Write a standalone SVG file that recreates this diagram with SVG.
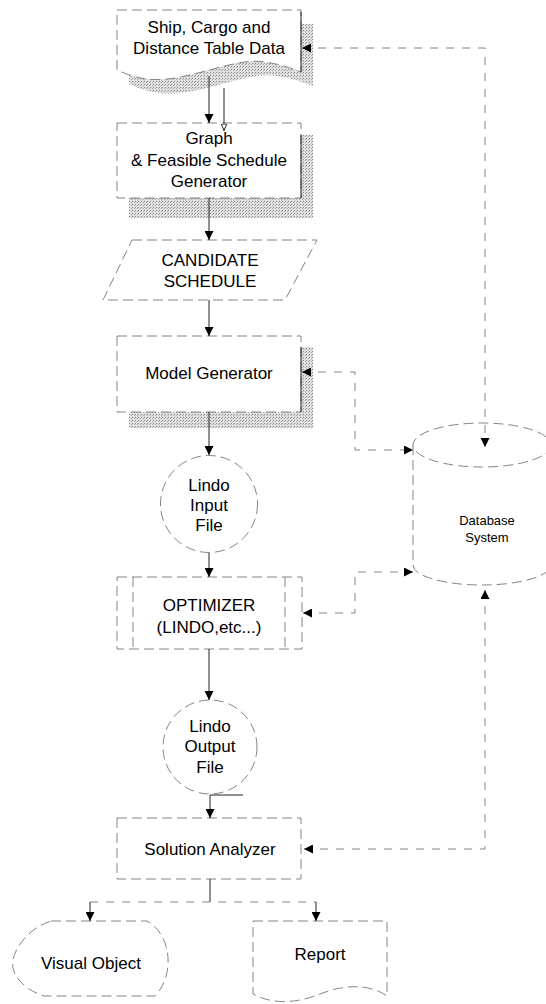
<svg xmlns="http://www.w3.org/2000/svg" width="546" height="1004" viewBox="0 0 546 1004">
<defs>
<pattern id="stip" width="3" height="3" patternUnits="userSpaceOnUse">
<rect width="3" height="3" fill="#e0e0e0"/>
<rect x="0" y="0" width="1" height="1" fill="#8a8a8a"/>
<rect x="2" y="1" width="1" height="1" fill="#aaaaaa"/>
</pattern>
<marker id="ah" viewBox="0 0 10 10" refX="10" refY="5" markerWidth="9" markerHeight="9" markerUnits="userSpaceOnUse" orient="auto-start-reverse">
<path d="M0,0 L10,5 L0,10 Z" fill="#000"/>
</marker>
<marker id="hollow" viewBox="0 0 10 10" refX="10" refY="5" markerWidth="7" markerHeight="7" markerUnits="userSpaceOnUse" orient="auto">
<path d="M0,1 L9,5 L0,9 Z" fill="#fff" stroke="#000" stroke-width="1.2"/>
</marker>
</defs>
<style>
.b{fill:#fff;stroke:#777;stroke-width:0.9;stroke-dasharray:10 5}
.sh{fill:url(#stip);stroke:none}
.t{font-family:"Liberation Sans",Arial,sans-serif;font-size:17px;fill:#000;text-anchor:middle}
.ts{font-family:"Liberation Sans",Arial,sans-serif;font-size:13px;fill:#000;text-anchor:middle}
.c{fill:none;stroke:#222;stroke-width:1}
.cd{fill:none;stroke:#777;stroke-width:0.9;stroke-dasharray:8 8}
</style>

<g id="ship-data">
<path class="sh" d="M129 24 L313 24 L313 86 C307 84, 297 79, 277 76 C252 72, 222 86, 187 92 C162 96, 147 92, 129 84 Z"/>
<path class="b" d="M117 10 L301 10 L301 72 C295 70, 285 65, 265 62 C240 58, 210 72, 175 78 C150 82, 135 78, 117 70 Z"/>
<line x1="301" y1="12" x2="301" y2="72" stroke="#222" stroke-width="1"/>
<text class="t" x="209" y="33">Ship, Cargo and</text>
<text class="t" x="209" y="54">Distance Table Data</text>
</g>

<g id="graph-generator">
<rect class="sh" x="129" y="135" width="184" height="83"/>
<rect class="b" x="117" y="123" width="184" height="75"/>
<line x1="301" y1="135" x2="301" y2="198" stroke="#222" stroke-width="1"/>
<text class="t" x="209" y="144">Graph</text>
<text class="t" x="209" y="166">&amp; Feasible Schedule</text>
<text class="t" x="209" y="187">Generator</text>
</g>

<g id="candidate-schedule">
<polygon class="b" points="132,240 317,240 285,300 103,300"/>
<text class="t" x="210" y="266">CANDIDATE</text>
<text class="t" x="210" y="287">SCHEDULE</text>
</g>

<g id="model-generator">
<rect class="sh" x="129" y="347" width="184" height="81"/>
<rect class="b" x="117" y="336" width="184" height="76"/>
<line x1="301" y1="347" x2="301" y2="412" stroke="#222" stroke-width="1"/>
<text class="t" x="209" y="379">Model Generator</text>
</g>

<g id="lindo-input">
<circle class="b" cx="209" cy="504" r="48.5"/>
<text class="t" x="209" y="491">Lindo</text>
<text class="t" x="209" y="511">Input</text>
<text class="t" x="209" y="531">File</text>
</g>

<g id="optimizer">
<rect class="b" x="117" y="577" width="185" height="72"/>
<line class="b" x1="133" y1="577" x2="133" y2="649"/>
<line class="b" x1="285" y1="577" x2="285" y2="649"/>
<text class="t" x="209" y="611">OPTIMIZER</text>
<text class="t" x="209" y="633">(LINDO,etc...)</text>
</g>

<g id="lindo-output">
<circle class="b" cx="210" cy="747" r="47"/>
<text class="t" x="210" y="732">Lindo</text>
<text class="t" x="210" y="752">Output</text>
<text class="t" x="210" y="773">File</text>
</g>

<g id="solution-analyzer">
<rect class="b" x="117" y="818" width="184" height="61"/>
<text class="t" x="210" y="855">Solution Analyzer</text>
</g>

<g id="visual-object">
<path class="b" d="M51 921 L147 921 C172 935, 175 975, 155 996 L44 996 C25 990, 10 975, 13 960 C16 945, 30 928, 51 921 Z"/>
<text class="t" x="91" y="969">Visual Object</text>
</g>

<g id="report">
<path class="b" d="M253 921 L387 921 L387 996 C370 984, 345 984, 320 994 C300 1002, 275 1006, 253 994 Z"/>
<text class="t" x="320" y="960">Report</text>
</g>

<g id="database">
<path class="b" d="M413 445 L413 565 A69 20 0 0 0 551 565 L551 445"/>
<ellipse class="b" cx="482" cy="445" rx="69" ry="22"/>
<text class="ts" x="487" y="525">Database</text>
<text class="ts" x="487" y="542">System</text>
</g>

<g id="connectors">
<path class="c" d="M209 76 L209 123" marker-end="url(#ah)"/>
<path class="c" d="M224 88 L224 131" marker-end="url(#hollow)"/>
<path class="c" d="M209 198 L209 240" marker-end="url(#ah)"/>
<path class="c" d="M209 300 L209 336" marker-end="url(#ah)"/>
<path class="c" d="M209 412 L209 455" marker-end="url(#ah)"/>
<path class="c" d="M209 553 L209 577" marker-end="url(#ah)"/>
<path class="c" d="M209 649 L209 700" marker-end="url(#ah)"/>
<path class="c" d="M243 795 L210 795 L210 818" marker-end="url(#ah)"/>
<path class="c" d="M210 879 L210 902"/>
<path class="cd" d="M90 902 L316 902"/>
<path class="c" d="M90 902 L90 921" marker-end="url(#ah)"/>
<path class="c" d="M316 902 L316 921" marker-end="url(#ah)"/>
<path class="cd" d="M302 48 L485 48 L485 447" marker-start="url(#ah)" marker-end="url(#ah)"/>
<path class="cd" d="M302 372 L355 372 L355 450 L413 450" marker-start="url(#ah)" marker-end="url(#ah)"/>
<path class="cd" d="M303 613 L355 613 L355 572 L413 572" marker-start="url(#ah)" marker-end="url(#ah)"/>
<path class="cd" d="M304 849 L485 849 L485 590" marker-start="url(#ah)" marker-end="url(#ah)"/>
</g>
</svg>
